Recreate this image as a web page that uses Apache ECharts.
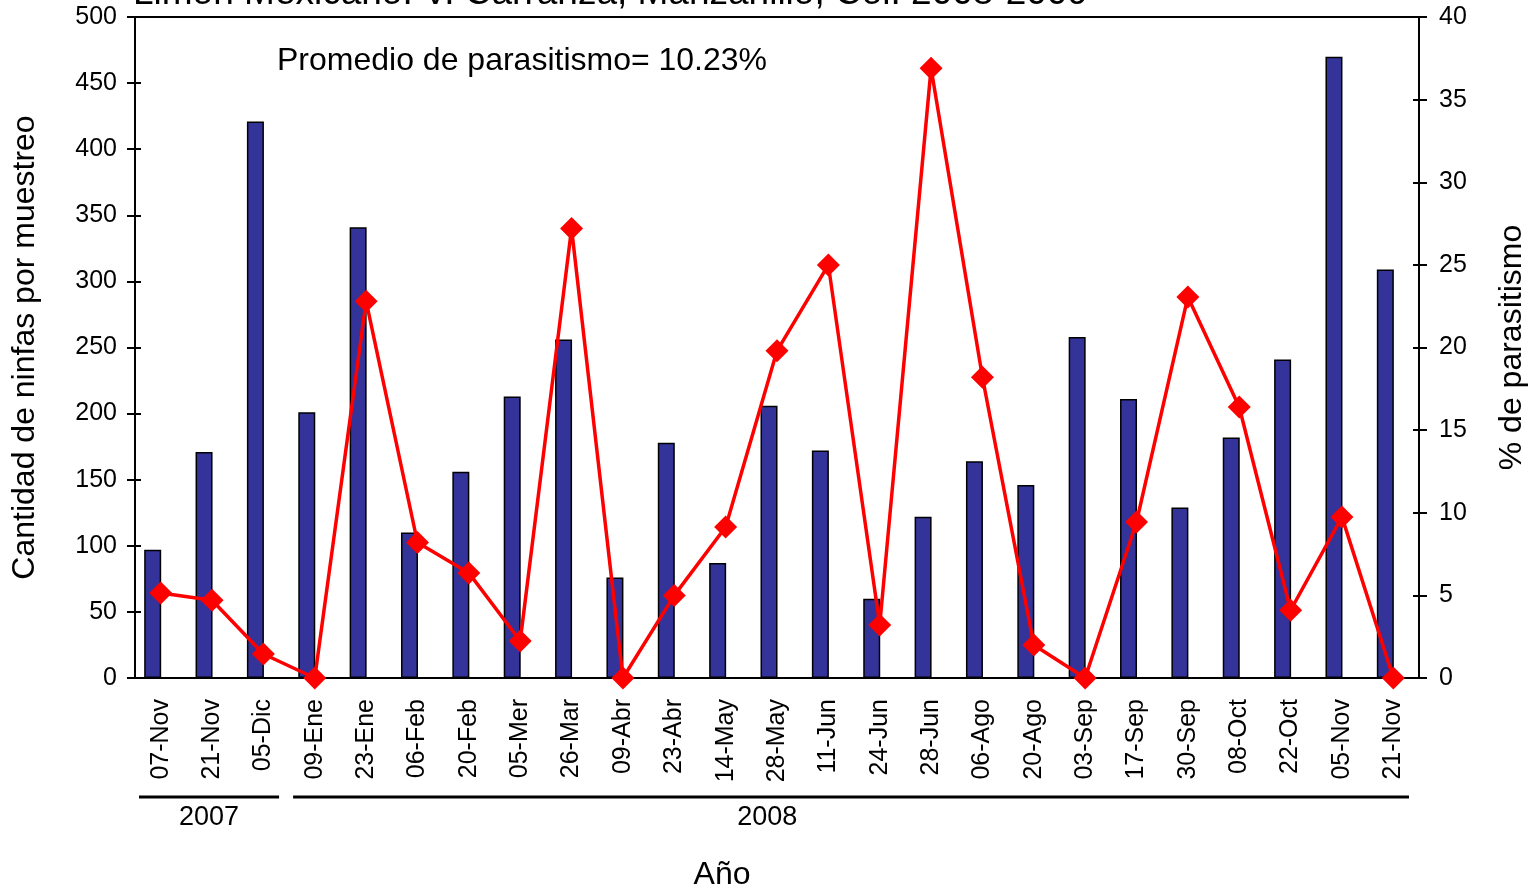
<!DOCTYPE html>
<html>
<head>
<meta charset="utf-8">
<script src="https://cdn.jsdelivr.net/npm/echarts@6/dist/echarts.min.js"></script>
<style>
  html, body { margin: 0; padding: 0; background: #fff; }
  #chart { width: 1536px; height: 894px; }
</style>
</head>
<body>
<div id="chart"></div>
<script>
// sampling dates
const fechas = ['07-Nov', '21-Nov', '05-Dic', '09-Ene', '23-Ene', '06-Feb', '20-Feb', '05-Mer', '26-Mar',
  '09-Abr', '23-Abr', '14-May', '28-May', '11-Jun', '24-Jun', '28-Jun', '06-Ago', '20-Ago', '03-Sep',
  '17-Sep', '30-Sep', '08-Oct', '22-Oct', '05-Nov', '21-Nov']
// nymphs per sample (left axis)
const ninfas = [97, 171, 421, 201, 341, 110, 156, 213, 256, 76, 178, 87, 206, 172, 60, 122, 164, 146,
  258, 211, 129, 182, 241, 470, 309]
// % parasitism (right axis)
const parasitismo = [5.15, 4.7, 1.45, 0, 22.8, 8.2, 6.36, 2.24, 27.2, 0, 5.0, 9.14, 19.8, 25.0, 3.2,
  36.9, 18.2, 2.0, 0, 9.44, 23.06, 16.4, 4.1, 9.75, 0]
// year groups under the dates (first and last sample of each year)
const anios = ['2007', '2008']
const aniosDesde = [0, 3]
const aniosHasta = [2, 24]

const font = '"Liberation Sans", Arial, sans-serif'
const chart = echarts.init(document.getElementById('chart'))

const tickOut = { lineStyle: { color: '#000', width: 2 }, length: 8 }
const tickIn = { lineStyle: { color: '#000', width: 2 }, length: 6 }

const option = {
  animation: false,
  textStyle: { fontFamily: font, color: '#000' },
  grid: { left: 135, right: 117, top: 17, bottom: 216 },
  graphic: [
    {
      type: 'text', left: 133, top: -25,
      style: { text: 'Limon Mexicano. V. Carranza, Manzanillo, Col. 2008-2009', font: '37px ' + font, fill: '#000' },
    },
    {
      type: 'text', left: 277, top: 45,
      style: { text: 'Promedio de parasitismo= 10.23%', font: '32px ' + font, fill: '#000' },
    },
    {
      type: 'text', x: 722, y: 875,
      style: { text: 'Año', font: '32px ' + font, fill: '#000', align: 'center', verticalAlign: 'middle' },
    },
  ],
  xAxis: [
    {
      type: 'category', data: fechas,
      axisLine: { lineStyle: { color: '#000', width: 2 } },
      axisTick: Object.assign({ interval: 0 }, tickOut),
      axisLabel: { rotate: 90, interval: 0, fontSize: 25, color: '#000', fontFamily: font, margin: 21 },
    },
    {
      type: 'category', data: fechas, position: 'bottom',
      axisLine: { show: false },
      axisTick: Object.assign({ interval: 0, inside: true }, tickIn),
      axisLabel: { show: false },
    },
  ],
  yAxis: [
    {
      type: 'value', min: 0, max: 500, interval: 50,
      name: 'Cantidad de ninfas por muestreo', nameLocation: 'middle', nameRotate: 90, nameGap: 94,
      nameTextStyle: { fontSize: 32, fontFamily: font, color: '#000' },
      axisLine: { show: true, lineStyle: { color: '#000', width: 2 } },
      axisTick: Object.assign({ show: true }, tickOut),
      axisLabel: { fontSize: 25, color: '#000', fontFamily: font, margin: 18 },
      splitLine: { show: false },
    },
    {
      type: 'value', min: 0, max: 40, interval: 5, position: 'right',
      name: '% de parasitismo', nameLocation: 'middle', nameRotate: 90, nameGap: 77,
      nameTextStyle: { fontSize: 32, fontFamily: font, color: '#000' },
      axisLine: { show: true, lineStyle: { color: '#000', width: 2 } },
      axisTick: Object.assign({ show: true }, tickOut),
      axisLabel: { fontSize: 25, color: '#000', fontFamily: font, margin: 20 },
      splitLine: { show: false },
    },
    {
      type: 'value', min: 0, max: 500, interval: 50, position: 'left',
      axisLine: { show: false },
      axisTick: Object.assign({ show: true, inside: true }, tickIn),
      axisLabel: { show: false }, splitLine: { show: false },
    },
    {
      type: 'value', min: 0, max: 40, interval: 5, position: 'right',
      axisLine: { show: false },
      axisTick: Object.assign({ show: true, inside: true }, tickIn),
      axisLabel: { show: false }, splitLine: { show: false },
    },
  ],
  series: [
    {
      type: 'bar', data: ninfas, xAxisIndex: 0, yAxisIndex: 0,
      barWidth: 17, barGap: '-6%',
      itemStyle: { color: '#333399', borderColor: '#000', borderWidth: 1.5 },
    },
    // empty companion so the bars sit left of the category centre, as in the original
    { type: 'bar', data: [], xAxisIndex: 0, yAxisIndex: 0, barWidth: 17 },
    {
      type: 'line', data: parasitismo, xAxisIndex: 0, yAxisIndex: 1,
      symbol: 'diamond', symbolSize: 23,
      lineStyle: { color: '#FF0000', width: 3.5 },
      itemStyle: { color: '#FF0000' },
      z: 5,
    },
  ],
}

chart.setOption(option)

// top border of the plot area + year brackets under the date labels
const xAt = i => chart.convertToPixel({ xAxisIndex: 0 }, i)
const plotTop = chart.convertToPixel({ yAxisIndex: 0 }, 500)
const step = xAt(1) - xAt(0)
const extra = [
  { type: 'line', shape: { x1: 135, y1: plotTop, x2: 1419, y2: plotTop }, style: { stroke: '#000', lineWidth: 2 } },
]
anios.forEach((label, k) => {
  const x1 = xAt(aniosDesde[k]) - step / 2 + 4
  const x2 = xAt(aniosHasta[k]) + step / 2 - 10
  // the 2008 label sits left of its bracket centre in the original
  const tx = k === 0 ? (x1 + x2) / 2 : x1 + (x2 - x1) * 0.425
  extra.push({ type: 'line', shape: { x1, y1: 797, x2, y2: 797 }, style: { stroke: '#000', lineWidth: 3 } })
  extra.push({
    type: 'text', x: tx, y: 818,
    style: { text: label, font: '27px ' + font, fill: '#000', align: 'center', verticalAlign: 'middle' },
  })
})
chart.setOption({ graphic: option.graphic.concat(extra) })
</script>
</body>
</html>
